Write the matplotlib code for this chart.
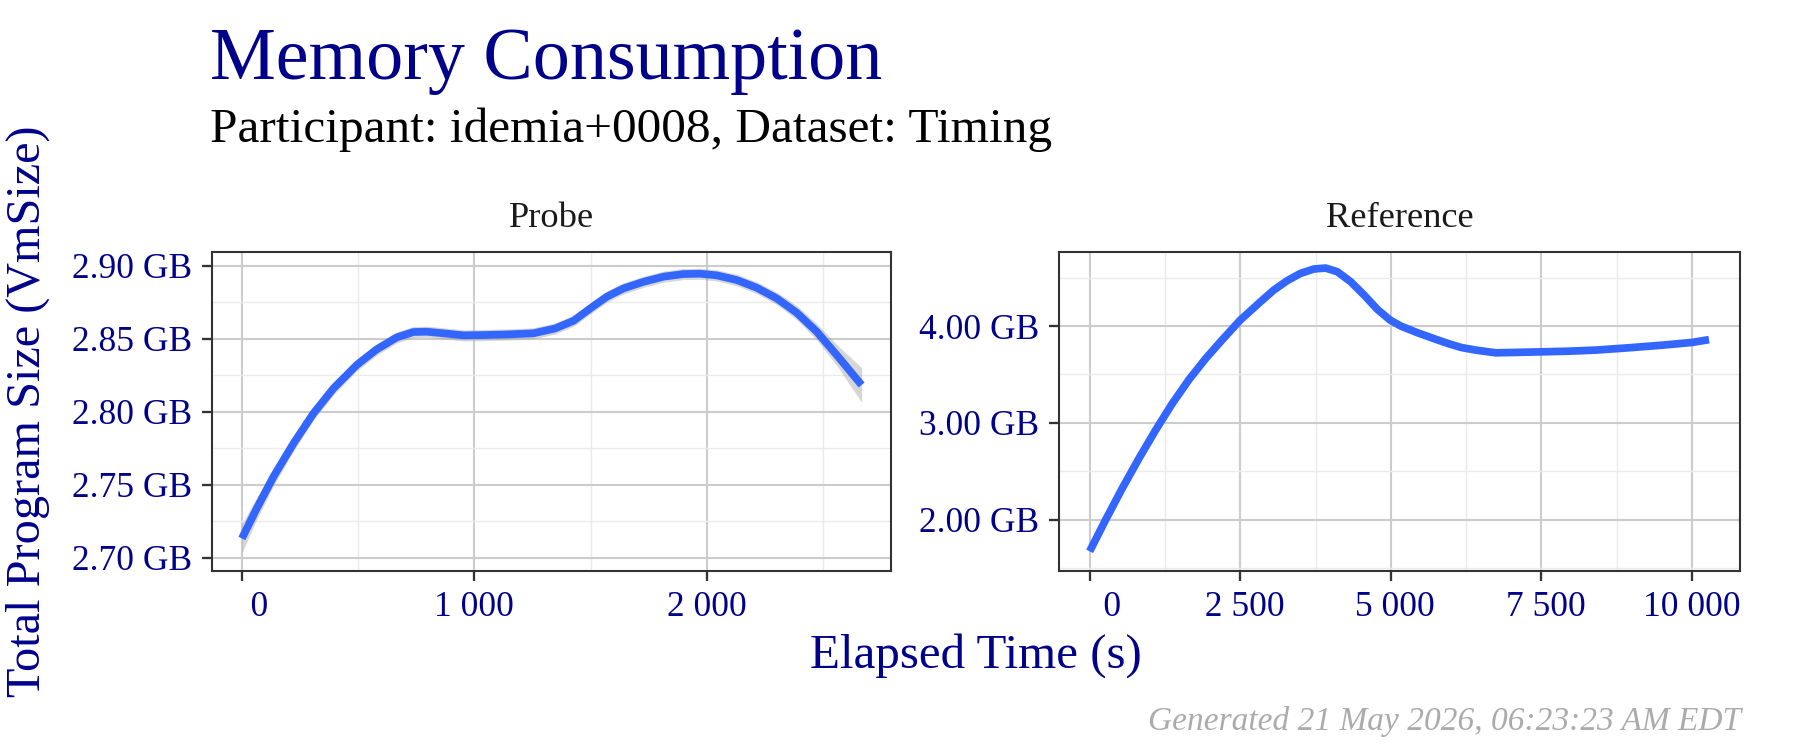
import matplotlib
matplotlib.use("Agg")
import matplotlib.pyplot as plt
from matplotlib.ticker import FuncFormatter, MultipleLocator
import numpy as np

plt.rcParams['font.family'] = ['Liberation Serif', 'DejaVu Serif']

# Probe facet: smoothed VmSize (GB) vs elapsed time (s)
probe_time = [0, 64, 136, 222, 308, 394, 494, 580, 666, 738, 795, 867, 953, 1039,
              1153, 1254, 1347, 1427, 1499, 1570, 1642, 1728, 1814, 1900, 1971,
              2043, 2129, 2215, 2301, 2387, 2473, 2559, 2666]
probe_size = [2.7132, 2.7338, 2.7555, 2.7783, 2.7989, 2.8160, 2.8320, 2.8427, 2.8509,
              2.8546, 2.8548, 2.8537, 2.8523, 2.8525, 2.8530, 2.8537, 2.8570, 2.8623,
              2.8708, 2.8788, 2.8845, 2.8890, 2.8925, 2.8943, 2.8945, 2.8934, 2.8902,
              2.8849, 2.8776, 2.8678, 2.8548, 2.8388, 2.8183]
# half width of the grey confidence band
probe_band = [0.0100, 0.0075, 0.0060, 0.0052, 0.0046, 0.0043, 0.0040, 0.0039, 0.0038,
              0.0038, 0.0038, 0.0038, 0.0038, 0.0038, 0.0038, 0.0038, 0.0038, 0.0038,
              0.0038, 0.0038, 0.0038, 0.0038, 0.0038, 0.0038, 0.0038, 0.0038, 0.0039,
              0.0040, 0.0043, 0.0048, 0.0056, 0.0072, 0.0118]

# Reference facet
ref_time = [0, 261, 539, 817, 1094, 1372, 1650, 1928, 2206, 2500, 2833, 3056, 3278,
            3500, 3722, 3917, 4111, 4333, 4556, 4778, 4989, 5167, 5444, 5722, 5944,
            6167, 6410, 6742, 7074, 7500, 7959, 8402, 8955, 9508, 10000, 10282]
ref_size = [1.672, 1.993, 2.321, 2.631, 2.924, 3.200, 3.448, 3.666, 3.862, 4.062,
            4.250, 4.372, 4.469, 4.545, 4.590, 4.600, 4.562, 4.459, 4.321, 4.172,
            4.062, 4.000, 3.931, 3.869, 3.821, 3.779, 3.752, 3.724, 3.728, 3.734,
            3.741, 3.752, 3.776, 3.803, 3.831, 3.860]

facets = ["Probe", "Reference"]

NAVY = "#00008B"
LINE = "#3366FF"

fig = plt.figure(figsize=(12, 5), dpi=150)
ax1 = fig.add_axes([0.1176, 0.2387, 0.3776, 0.4257])
ax2 = fig.add_axes([0.5883, 0.2387, 0.3783, 0.4257])

gb_fmt = FuncFormatter(lambda v, p: f"{v:.2f} GB")


def sec_fmt(width):
    # R's format() pads labels to a common width with leading spaces
    return FuncFormatter(lambda v, p: f"{v:,.0f}".replace(",", " ").rjust(width))


pt = np.array(probe_time)
ps = np.array(probe_size)
pb = np.array(probe_band)
ax1.fill_between(pt, ps - pb, ps + pb, color="#999999", alpha=0.4, lw=0, zorder=2)
ax1.plot(pt, ps, color=LINE, lw=3.7, solid_capstyle='butt', zorder=3)
ax1.set_xlim(-130, 2794)
ax1.set_ylim(2.6909, 2.9096)
ax1.xaxis.set_major_locator(MultipleLocator(1000))
ax1.xaxis.set_minor_locator(MultipleLocator(500))
ax1.yaxis.set_major_locator(MultipleLocator(0.05))
ax1.yaxis.set_minor_locator(MultipleLocator(0.025))
ax1.xaxis.set_major_formatter(sec_fmt(5))

ax2.plot(ref_time, ref_size, color=LINE, lw=3.7, solid_capstyle='butt', zorder=3)
ax2.set_xlim(-510, 10795)
ax2.set_ylim(1.469, 4.769)
ax2.xaxis.set_major_locator(MultipleLocator(2500))
ax2.xaxis.set_minor_locator(MultipleLocator(1250))
ax2.yaxis.set_major_locator(MultipleLocator(1.0))
ax2.yaxis.set_minor_locator(MultipleLocator(0.5))
ax2.xaxis.set_major_formatter(sec_fmt(6))

for ax, name in zip([ax1, ax2], facets):
    ax.yaxis.set_major_formatter(gb_fmt)
    ax.grid(which='major', color="#CCCCCC", lw=1.0, zorder=0)
    ax.grid(which='minor', color="#EBEBEB", lw=0.7, zorder=0)
    ax.set_axisbelow(True)
    for s in ax.spines.values():
        s.set_color("#333333")
        s.set_linewidth(1.0)
    ax.tick_params(which='major', length=4.6, width=1.1, color="#333333",
                   labelsize=17, labelcolor=NAVY, pad=5)
    ax.tick_params(which='minor', length=0)
    ax.text(0.5, 1.077, name, transform=ax.transAxes, ha='center', va='baseline',
            fontsize=17.5, color="#1A1A1A")

fig.text(0.1167, 0.8947, "Memory Consumption", fontsize=35.5, color=NAVY, va='baseline')
fig.text(0.1167, 0.8107, "Participant: idemia+0008, Dataset: Timing", fontsize=23.7,
         color="black", va='baseline')
fig.text(0.5422, 0.1093, "Elapsed Time (s)", fontsize=23.5, color=NAVY,
         ha='center', va='baseline')
fig.text(0.0153, 0.452, "Total Program Size (VmSize)", fontsize=23.2, color=NAVY,
         rotation=90, ha='center', va='center')
fig.text(0.9675, 0.0267, "Generated 21 May 2026, 06:23:23 AM EDT", fontsize=16,
         color="#ABABAB", style='italic', ha='right', va='baseline')

fig.savefig("out.png", dpi=150)
